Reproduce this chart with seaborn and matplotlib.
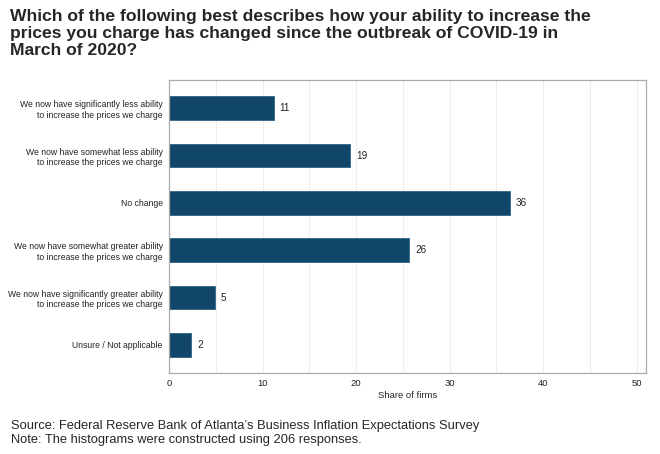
import pandas as pd
import numpy as np
import matplotlib.pyplot as plt
import seaborn as sns

categories = [
    "We now have significantly less ability\nto increase the prices we charge",
    "We now have somewhat less ability\nto increase the prices we charge",
    "No change",
    "We now have somewhat greater ability\nto increase the prices we charge",
    "We now have significantly greater ability\nto increase the prices we charge",
    "Unsure / Not applicable",
]
shares = [11.2, 19.4, 36.4, 25.7, 4.9, 2.4]
labels = ["11", "19", "36", "26", "5", "2"]

df = pd.DataFrame({"category": categories, "share": shares})

sns.set_style("white")
plt.rcParams["font.family"] = ["Liberation Sans", "DejaVu Sans"]

fig = plt.figure(figsize=(6.6, 4.54), dpi=100)
ax = fig.add_axes([0.256, 0.178, 0.723, 0.646])

sns.barplot(data=df, x="share", y="category", color="#10476a", width=0.5,
            edgecolor="#2f6488", linewidth=0.6, saturation=1, ax=ax)

for i, (v, lab) in enumerate(zip(shares, labels)):
    ax.text(v + 0.6, i, lab, va="center", ha="left", fontsize=7.2, color="#222222")

ax.set_xlim(0, 51)
ax.set_ylim(5.6, -0.6)
ax.set_xticks(range(0, 51, 10))
ax.set_xticks(range(5, 51, 10), minor=True)
ax.grid(axis="x", which="both", color="#eeeeee", linewidth=0.8)
ax.set_axisbelow(True)
for s in ax.spines.values():
    s.set_color("#aaaaaa")
    s.set_linewidth(0.9)

ax.tick_params(axis="both", which="major", length=3, color="#666666",
               labelcolor="#222222", pad=1.5)
ax.tick_params(axis="y", labelsize=6.2)
ax.tick_params(axis="x", labelsize=6.8)
ax.tick_params(axis="x", which="minor", length=0)
ax.set_xlabel("Share of firms", fontsize=6.8, labelpad=2)
ax.set_ylabel("")

fig.text(0.015, 0.981,
         "Which of the following best describes how your ability to increase the\n"
         "prices you charge has changed since the outbreak of COVID-19 in\n"
         "March of 2020?",
         fontsize=12.6, fontweight="bold", va="top", ha="left", linespacing=1.17)

fig.text(0.017, 0.018,
         "Source: Federal Reserve Bank of Atlanta\u2019s Business Inflation Expectations Survey\n"
         "Note: The histograms were constructed using 206 responses.",
         fontsize=9.3, va="bottom", ha="left", linespacing=1.2)

fig.savefig("out.png", dpi=100)
